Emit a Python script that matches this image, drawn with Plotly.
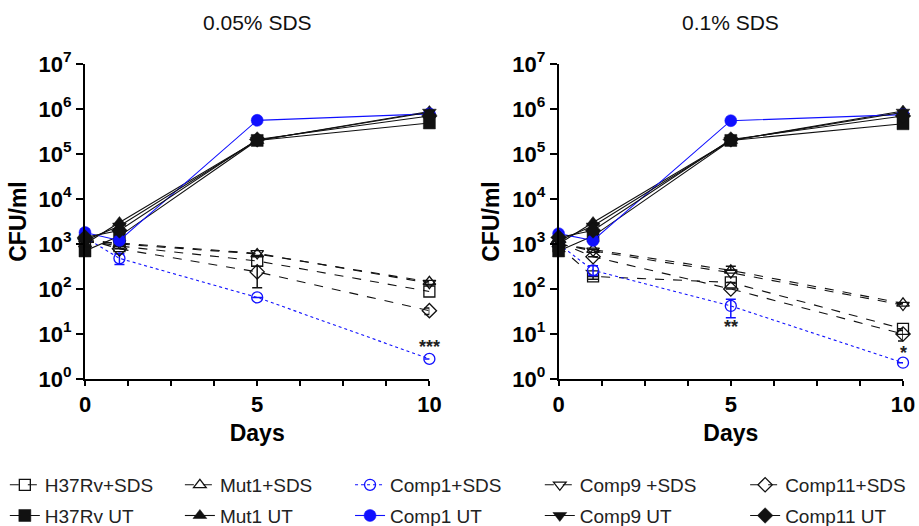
import plotly.graph_objects as go
from plotly.subplots import make_subplots

days = [0, 1, 5, 10]

# 0.05% SDS panel
h37_sds_005 = [1200, 900, 420, 88]
mut1_sds_005 = [1300, 1000, 600, 145]
comp1_sds_005 = [1400, 480, 65, 2.8]
comp9_sds_005 = [1100, 1050, 620, 135]
comp11_sds_005 = [1300, 780, 240, 33]
h37_ut_005 = [700, 1500, 200000, 490000]
mut1_ut_005 = [1000, 3000, 200000, 880000]
comp1_ut_005 = [1800, 1200, 560000, 780000]
comp9_ut_005 = [1200, 2500, 200000, 850000]
comp11_ut_005 = [1400, 2000, 210000, 700000]

# 0.1% SDS panel
h37_sds_01 = [900, 190, 140, 13]
mut1_sds_01 = [1000, 750, 260, 48]
comp1_sds_01 = [1000, 260, 42, 2.3]
comp9_sds_01 = [1000, 700, 230, 44]
comp11_sds_01 = [1100, 520, 100, 10]
h37_ut_01 = [700, 1500, 200000, 470000]
mut1_ut_01 = [1000, 3000, 200000, 900000]
comp1_ut_01 = [1700, 1200, 550000, 750000]
comp9_ut_01 = [1200, 2500, 200000, 850000]
comp11_ut_01 = [1400, 2000, 210000, 700000]

# error bars (plus, minus) in CFU/ml
err_comp1_sds_005 = ([100, 130, 0, 0], [0, 130, 0, 0])
err_comp11_sds_005 = ([0, 0, 80, 5], [0, 0, 133, 6])
err_comp1_sds_01 = ([0, 70, 17, 0], [0, 60, 19, 0])
err_mut1_sds_01 = ([0, 0, 60, 0], [0, 0, 0, 0])
err_comp11_sds_01 = ([0, 0, 0, 2], [0, 0, 0, 3])
err_h37_sds_01 = ([0, 0, 0, 0], [0, 25, 0, 0])

names_sds = ["H37Rv+SDS", "Mut1+SDS", "Comp1+SDS", "Comp9 +SDS", "Comp11+SDS"]
names_ut = ["H37Rv UT", "Mut1 UT", "Comp1 UT", "Comp9 UT", "Comp11 UT"]
tick_vals_y = [1, 10, 100, 1000, 10000, 100000, 1000000, 10000000]
tick_text_y = ["<b>10<sup>%d</sup></b>" % i for i in range(8)]
x_tick_vals = [0, 1.25, 2.5, 3.75, 5, 6.25, 7.5, 8.75, 10]
x_tick_text = ["<b>0</b>", "", "", "", "<b>5</b>", "", "", "", "<b>10</b>"]

BLUE = "#1010ff"
BLACK = "#111111"

sds_sym = ["square-open", "triangle-up-open", "circle-open", "triangle-down-open", "diamond-open"]
ut_sym = ["square", "triangle-up", "circle", "triangle-down", "diamond"]

panels = [
    dict(sds=[h37_sds_005, mut1_sds_005, comp1_sds_005, comp9_sds_005, comp11_sds_005],
         ut=[h37_ut_005, mut1_ut_005, comp1_ut_005, comp9_ut_005, comp11_ut_005],
         err={2: err_comp1_sds_005, 4: err_comp11_sds_005}),
    dict(sds=[h37_sds_01, mut1_sds_01, comp1_sds_01, comp9_sds_01, comp11_sds_01],
         ut=[h37_ut_01, mut1_ut_01, comp1_ut_01, comp9_ut_01, comp11_ut_01],
         err={2: err_comp1_sds_01, 1: err_mut1_sds_01, 4: err_comp11_sds_01, 0: err_h37_sds_01}),
]

fig = make_subplots(rows=1, cols=2, horizontal_spacing=0.158)
legend_ids = ["legend", "legend2", "legend3", "legend4", "legend5"]

for p, panel in enumerate(panels):
    col = p + 1
    for i in range(5):
        c = BLUE if i == 2 else BLACK
        ebar = None
        if i in panel["err"]:
            plus, minus = panel["err"][i]
            ebar = dict(type="data", symmetric=False, array=plus, arrayminus=minus,
                        color=c, thickness=1.5, width=5)
        fig.add_trace(go.Scatter(
            x=days, y=panel["sds"][i], name=names_sds[i], mode="lines+markers",
            line=dict(color=c, width=1.1, dash="dot" if i == 2 else "dash"),
            marker=dict(symbol=sds_sym[i], size=11, color=c, line=dict(width=1.3, color=c)),
            error_y=ebar, cliponaxis=False,
            showlegend=(p == 0), legend=legend_ids[i], legendgroup=names_sds[i],
        ), row=1, col=col)
    for i in range(5):
        c = BLUE if i == 2 else BLACK
        fig.add_trace(go.Scatter(
            x=days, y=panel["ut"][i], name=names_ut[i], mode="lines+markers",
            line=dict(color=c, width=1.1),
            marker=dict(symbol=ut_sym[i], size=12, color=c, line=dict(width=0.5, color=c)),
            cliponaxis=False,
            showlegend=(p == 0), legend=legend_ids[i], legendgroup=names_ut[i],
        ), row=1, col=col)

axis_font = dict(family="Liberation Sans, Arial, sans-serif", size=22, color="black")
title_font = dict(family="Liberation Sans, Arial, sans-serif", size=23, color="black")
for col in (1, 2):
    fig.update_xaxes(range=[0, 10], tickvals=x_tick_vals, ticktext=x_tick_text,
                     ticks="outside", ticklen=5, tickwidth=1.5, tickcolor="black",
                     showline=True, linecolor="black", linewidth=2, showgrid=False,
                     zeroline=False, tickfont=axis_font, automargin=False,
                     title=dict(text="<b>Days</b>", font=title_font, standoff=8),
                     row=1, col=col)
    fig.update_yaxes(type="log", range=[0, 7], tickvals=tick_vals_y, ticktext=tick_text_y,
                     ticks="outside", ticklen=7, tickwidth=1.5, tickcolor="black",
                     showline=True, linecolor="black", linewidth=2, showgrid=False,
                     zeroline=False, tickfont=axis_font, automargin=False,
                     title=dict(text="<b>CFU/ml</b>", font=title_font, standoff=6),
                     row=1, col=col)

legend_x = [-0.098, 0.116, 0.324, 0.556, 0.807]
layout_legends = {}
for k, lid in enumerate(legend_ids):
    layout_legends[lid] = dict(x=legend_x[k], y=-0.276, xanchor="left", yanchor="top",
                               orientation="v", bgcolor="rgba(0,0,0,0)",
                               font=dict(family="Liberation Sans, Arial, sans-serif", size=19,
                                         color="#222"),
                               tracegroupgap=3, itemwidth=30)

plot_h = 526 - 64 - 147
fig.update_layout(
    width=919, height=526, plot_bgcolor="white", paper_bgcolor="white",
    margin=dict(l=85, r=16, t=64, b=147, autoexpand=False),
    font=dict(family="Liberation Sans, Arial, sans-serif", color="black"),
    annotations=[
        dict(text="0.05% SDS", x=0.5, xref="x domain", y=1 + (64 - 22) / plot_h, yref="paper",
             yanchor="middle", showarrow=False, font=dict(size=21, color="#111")),
        dict(text="0.1% SDS", x=0.5, xref="x2 domain", y=1 + (64 - 22) / plot_h, yref="paper",
             yanchor="middle", showarrow=False, font=dict(size=21, color="#111")),
        dict(text="<b>***</b>", x=10, xref="x", y=0.72, yref="y", showarrow=False,
             font=dict(size=18, color="#222")),
        dict(text="<b>**</b>", x=5, xref="x2", y=1.15, yref="y2", showarrow=False,
             font=dict(size=18, color="#222")),
        dict(text="<b>*</b>", x=10, xref="x2", y=0.58, yref="y2", showarrow=False,
             font=dict(size=18, color="#222")),
    ],
    **layout_legends,
)

fig.write_html("out.html", config={"displayModeBar": False},
               post_script="document.body.style.margin='0px';document.body.style.padding='0px';")
